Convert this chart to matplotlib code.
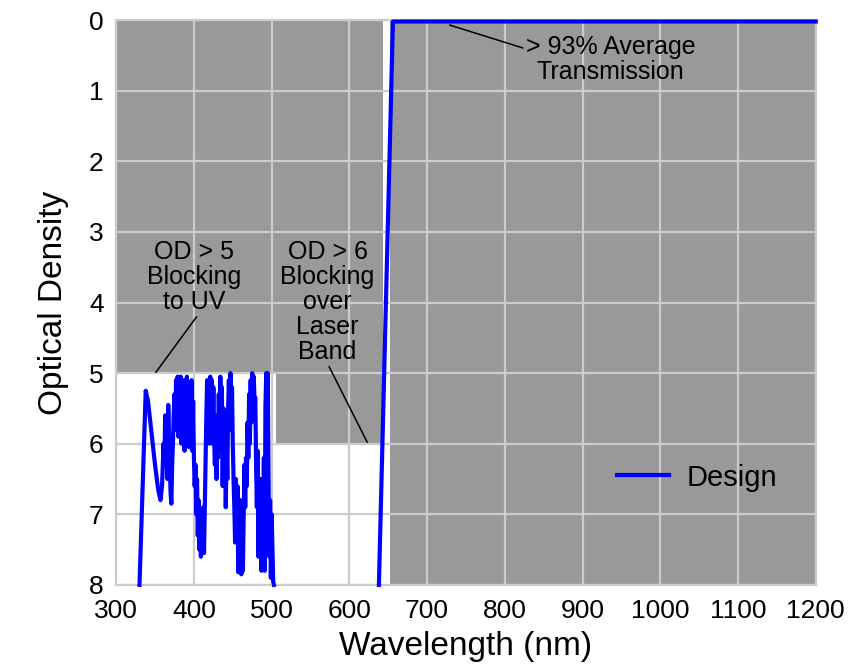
import numpy as np
import matplotlib
matplotlib.use("Agg")
import matplotlib.pyplot as plt
from matplotlib.patches import Rectangle

plt.rcParams["font.family"] = ["Liberation Sans", "DejaVu Sans"]

# design curve; nan = off scale (OD > 8)
wavelength = [
    330, 338, 341, 345, 350, 354, 357, 359, 361, 362, 363, 364, 365, 366, 367,
    368, 369, 370, 371, 372, 373, 374, 375, 376, 377, 378, 379, 380, 381, 382,
    383, 384, 385, 386, 387, 388, 389, 390, 391, 392, 393, 394, 395, 396, 397,
    398, 399, 400, 401, 402, 403, 404, 405, 406, 407, 408, 409, 410, 411, 412,
    413, 414, 415, 416, 417, 418, 419, 420, 421, 422, 423, 424, 425, 426, 427,
    428, 429, 430, 431, 432, 433, 434, 435, 436, 437, 438, 439, 440, 441, 442,
    443, 444, 445, 446, 447, 448, 449, 450, 451, 452, 453, 454, 455, 456, 457,
    458, 459, 460, 461, 462, 463, 464, 465, 466, 467, 468, 469, 470, 471, 472,
    473, 474, 475, 476, 477, 478, 479, 480, 481, 482, 483, 484, 485, 486, 487,
    488, 489, 490, 491, 492, 493, 494, 495, 496, 497, 498, 499, 500, 501, 502,
    503, 570, 638, 656, 700, 800, 900, 1000, 1100, 1200,
]
optical_density = [
    8.0, 5.25, 5.4, 5.8, 6.3, 6.65, 6.8, 6.6, 6.0, 6.3, 5.6, 6.2, 5.9, 6.5, 5.45,
    6.0, 6.3, 6.7, 6.85, 6.3, 6.0, 5.6, 5.3, 5.8, 5.1, 5.6, 5.05, 5.9, 5.1, 5.7,
    5.05, 6.0, 5.2, 5.9, 5.1, 6.1, 5.3, 5.9, 5.05, 5.8, 5.2, 6.05, 5.3, 5.9, 5.1,
    6.1, 5.4, 6.2, 6.6, 6.3, 7.0, 6.5, 7.3, 6.8, 7.5, 7.0, 7.6, 7.1, 7.55, 6.9,
    7.55, 6.9, 6.2, 5.6, 5.1, 5.9, 5.3, 6.0, 5.05, 5.8, 5.1, 6.0, 5.2, 5.9, 6.3,
    5.6, 6.5, 5.7, 6.2, 5.3, 6.1, 5.05, 5.8, 5.2, 6.6, 5.5, 6.4, 5.7, 6.9, 6.0,
    6.5, 5.5, 5.1, 5.7, 5.0, 5.8, 5.2, 6.0, 6.5, 6.9, 7.4, 6.5, 7.3, 6.6, 7.82,
    7.0, 7.6, 6.8, 7.85, 7.1, 7.8, 7.0, 6.3, 6.9, 6.2, 6.6, 5.7, 6.2, 5.3, 6.0,
    5.1, 5.7, 5.0, 5.5, 5.05, 5.4, 5.35, 6.3, 6.9, 6.1, 7.6, 6.7, 7.3, 6.5, 7.8,
    6.9, 7.5, 6.2, 7.8, 5.5, 5.0, 5.3, 5.0, 6.5, 7.6, 6.8, 7.9, 7.0, 7.5, 7.95,
    8.0, np.nan, 8.0, 0.02, 0.02, 0.02, 0.02, 0.02, 0.02, 0.02,
]

# shaded spec regions: (x start, x end, OD top, OD bottom)
spec_regions = [
    (300, 505, 0, 5),
    (505, 643, 0, 6),
    (652, 1200, 0, 8),
]

x_ticks = list(range(300, 1201, 100))
y_ticks = list(range(0, 9))

fig = plt.figure(figsize=(8.48, 6.70), dpi=100)
ax = fig.add_axes([0.137, 0.127, 0.825, 0.843])

for x0, x1, y0, y1 in spec_regions:
    ax.add_patch(Rectangle((x0, y0), x1 - x0, y1 - y0, facecolor="#999999",
                           edgecolor="none", zorder=0))

ax.set_xlim(300, 1200)
ax.set_ylim(8, 0)
ax.set_xticks(x_ticks)
ax.set_yticks(y_ticks)
ax.grid(True, color="#cccccc", linewidth=1.6, zorder=1)
ax.set_axisbelow(False)
ax.tick_params(length=0, labelsize=19)
ax.tick_params(axis="x", pad=10)
ax.tick_params(axis="y", pad=9)
for sp in ax.spines.values():
    sp.set_color("#cccccc")
    sp.set_linewidth(1.6)

ax.plot(wavelength, optical_density, color="#0000ff", linewidth=3.0,
        label="Design", clip_on=False, zorder=3)

ax.set_xlabel("Wavelength (nm)", fontsize=24, labelpad=6)
ax.set_ylabel("Optical Density", fontsize=24, labelpad=14)

ax.annotate("OD > 5\nBlocking\nto UV", xy=(351, 4.99), xytext=(400, 3.64),
            fontsize=18, ha="center", va="center", linespacing=1.05,
            arrowprops=dict(arrowstyle="-", color="black", lw=1.1,
                            shrinkA=0, shrinkB=0, relpos=(0.55, 0.0)), zorder=4)
ax.annotate("OD > 6\nBlocking\nover\nLaser\nBand", xy=(623, 5.98), xytext=(572, 3.99),
            fontsize=18, ha="center", va="center", linespacing=1.05,
            arrowprops=dict(arrowstyle="-", color="black", lw=1.1,
                            shrinkA=0, shrinkB=0, relpos=(0.5, 0.0)), zorder=4)
ax.annotate("> 93% Average\nTransmission", xy=(729, 0.07), xytext=(936, 0.56),
            fontsize=18, ha="center", va="center", linespacing=1.05,
            arrowprops=dict(arrowstyle="-", color="black", lw=1.1,
                            shrinkA=0, shrinkB=0, relpos=(0.0, 0.72)), zorder=4)

ax.legend(loc="center", bbox_to_anchor=(0.83, 0.19), frameon=False, fontsize=21,
          handlelength=1.8, handletextpad=0.6)

fig.savefig("out.png", dpi=100)
